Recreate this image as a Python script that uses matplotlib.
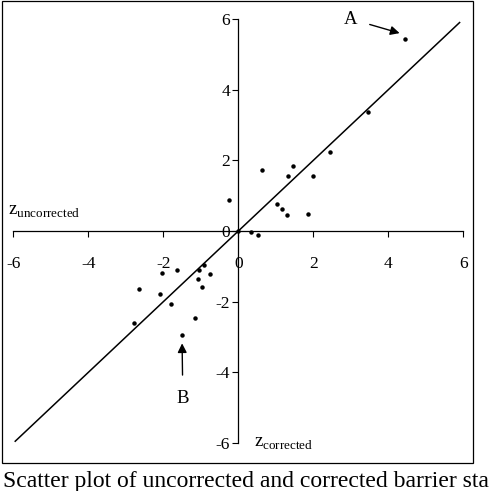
import matplotlib.pyplot as plt
from matplotlib.patches import Rectangle

plt.rcParams['font.family'] = ['Liberation Serif', 'DejaVu Serif']
plt.rcParams['mathtext.fontset'] = 'custom'
plt.rcParams['mathtext.rm'] = 'Liberation Serif'

# z values (corrected, uncorrected)
z_corrected = [4.45, 3.45, 2.45, 1.98, 1.45, 1.33, 0.63, -0.24, 1.03, 1.16, 1.30, 1.85,
               0.34, 0.53, 0.0, -1.63, -2.03, -0.91, -1.04, -0.76, -1.08, -0.97,
               -2.64, -2.10, -1.79, -1.16, -2.77, -1.50]
z_uncorrected = [5.43, 3.38, 2.23, 1.57, 1.84, 1.57, 1.72, 0.89, 0.76, 0.62, 0.44, 0.47,
                 -0.04, -0.12, 0.0, -1.10, -1.18, -0.97, -1.09, -1.22, -1.36, -1.59,
                 -1.65, -1.78, -2.08, -2.47, -2.59, -2.95]
line_x = [-5.95, 5.9]
ticks = [-6, -4, -2, 0, 2, 4, 6]
# caption as far as the picture shows it
caption = 'Scatter plot of uncorrected and corrected barrier sta'

fig = plt.figure(figsize=(5.0, 4.91), dpi=100)
ax = fig.add_axes([0.0267, 1 - 443 / 491, 0.9, 424 / 491])

ax.plot(line_x, line_x, color='black', linewidth=1.1)
ax.plot(z_corrected, z_uncorrected, 'o', color='black', markersize=2.2, clip_on=False)

ax.set_xlim(-6, 6)
ax.set_ylim(-6, 6)
ax.spines['left'].set_position(('data', 0))
ax.spines['bottom'].set_position(('data', 0))
ax.spines['right'].set_visible(False)
ax.spines['top'].set_visible(False)
for s in ('left', 'bottom'):
    ax.spines[s].set_linewidth(0.9)
ax.set_xticks(ticks)
ax.set_yticks(ticks)
ax.set_xticklabels([str(t) for t in ticks])
ax.set_yticklabels([str(t) for t in ticks])
ax.tick_params(axis='x', direction='out', length=4, width=0.8, pad=14, labelsize=12.5)
ax.tick_params(axis='y', direction='out', length=4, width=0.8, pad=2, labelsize=12.5)

ax.text(-6.15, 0.55, r'$\mathrm{z}_{\mathrm{uncorrected}}$', fontsize=13.5, va='center', ha='left')
ax.text(0.42, -6.02, r'$\mathrm{z}_{\mathrm{corrected}}$', fontsize=13.5, va='center', ha='left')

ax.annotate('A', xy=(4.3, 5.6), xytext=(3.0, 6.0), fontsize=13.5, ha='center', va='center',
            arrowprops=dict(arrowstyle='-|>', color='black', lw=1.0, shrinkA=7, shrinkB=0))
ax.annotate('B', xy=(-1.5, -3.18), xytext=(-1.48, -4.75), fontsize=13.5, ha='center', va='center',
            arrowprops=dict(arrowstyle='-|>', color='black', lw=1.0, shrinkA=9, shrinkB=0))

fig.patches.append(Rectangle((0.004, 1 - 462.7 / 491), 473.3 / 500 - 0.004, 461.7 / 491,
                             transform=fig.transFigure, fill=False, edgecolor='black', linewidth=0.9))
fig.text(0.006, 4 / 491, caption, fontsize=17, ha='left', va='baseline')

fig.savefig('out.png', dpi=100)
